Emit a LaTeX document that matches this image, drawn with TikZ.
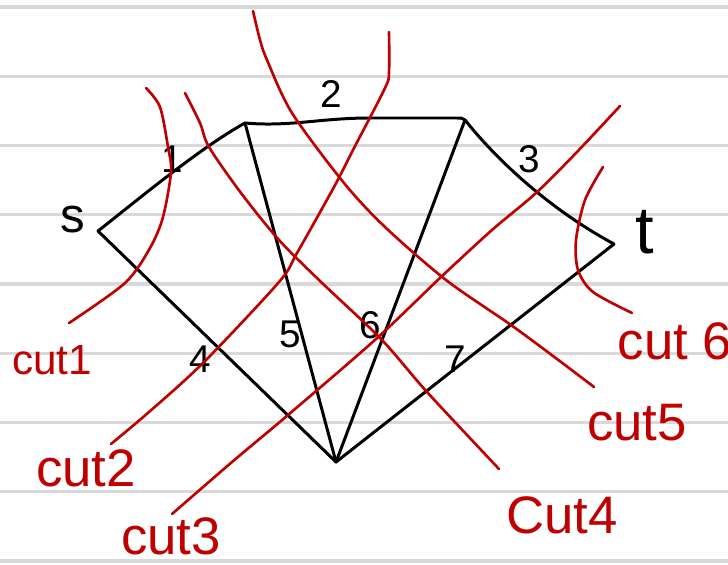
\documentclass[tikz,border=0pt]{standalone}
\usepackage{fontspec}
\setmainfont{Liberation Sans}
\definecolor{cutRed}{HTML}{C00000}
\definecolor{ruleGray}{HTML}{D9D9D9}
\tikzset{
  ruleLine/.style={ruleGray, line width=0.9pt},
  graphEdge/.style={black, line width=0.85pt, line cap=round},
  cutLine/.style={cutRed, line width=0.75pt, line cap=round},
  numLbl/.style={font=\fontsize{11}{13}\selectfont, inner sep=0pt},
  vtxLbl/.style={font=\fontsize{14}{16}\selectfont, inner sep=0pt},
  cutLbl/.style={text=cutRed, font=\fontsize{15}{17}\selectfont, inner sep=0pt},
}
\begin{document}
\begin{tikzpicture}[x=0.01cm, y=-0.01cm]
  \useasboundingbox (0,0) rectangle (728,564);
  \fill[white] (0,0) rectangle (728,564);
  \foreach \i in {0,...,8}
    \draw[ruleLine] (0,{7+69.25*\i}) -- (728,{7+69.25*\i});

  \coordinate (s) at (98,231);
  \coordinate (v1) at (245,123);
  \coordinate (v2) at (465,120);
  \coordinate (t) at (614,244);
  \coordinate (b) at (336,462);

  \draw[graphEdge] (s) .. controls (140,198) and (200,148) .. (v1);
  \draw[graphEdge] (v1) .. controls (290,127) and (320,118) .. (370,118)
    -- (455,118) .. controls (462,118) .. (v2);
  \draw[graphEdge] (v2) .. controls (505,170) and (560,215) .. (t);
  \draw[graphEdge] (s) -- (b);
  \draw[graphEdge] (v1) -- (b);
  \draw[graphEdge] (v2) -- (b);
  \draw[graphEdge] (t) -- (b);

  \node[vtxLbl] (ls) at (73,220) {s};
  \node[vtxLbl, font=\fontsize{19}{21}\selectfont] (lt) at (645,232) {t};
  \node[numLbl] (l1) at (172,159) {1};
  \node[numLbl] (l2) at (331,94) {2};
  \node[numLbl] (l3) at (529,159) {3};
  \node[numLbl] (l4) at (200,359) {4};
  \node[numLbl] (l5) at (290,334) {5};
  \node[numLbl] (l6) at (370,325) {6};
  \node[numLbl] (l7) at (455,359) {7};

  \draw[cutLine] plot[smooth] coordinates {(146,88) (160,107) (168,147)
    (171,172) (163,217) (150,248) (125,283) (69,323)};
  \draw[cutLine] plot[smooth] coordinates {(389,32) (389,72) (385,88)
    (353,150) (334,187) (297,253) (279,282) (204,362) (149,412) (111,444)};
  \draw[cutLine] plot[smooth] coordinates {(620,106) (576,153) (536,193)
    (492,230) (441,277) (376,339) (288,415) (232,462) (172,514)};
  \draw[cutLine] plot[smooth] coordinates {(185,93) (200,123) (209,147)
    (241,193) (279,240) (320,281) (381,339) (427,392) (499,469)};
  \draw[cutLine] plot[smooth] coordinates {(253,11) (260,40) (267,60)
    (292,113) (344,183) (385,227) (446,280) (511,325) (557,359) (594,387)};
  \draw[cutLine] plot[smooth] coordinates {(603,167) (585,200) (576,240)
    (578,270) (593,292) (632,313)};

  \node[cutLbl, font=\fontsize{12}{14}\selectfont] (c1) at (52,360) {cut1};
  \node[cutLbl] (c2) at (86,468) {cut2};
  \node[cutLbl] (c3) at (171,536) {cut3};
  \node[cutLbl] (c4) at (562,515) {Cut4};
  \node[cutLbl] (c5) at (637,423) {cut5};
  \node[cutLbl] (c6) at (675,341) {cut 6};
\end{tikzpicture}
\end{document}
